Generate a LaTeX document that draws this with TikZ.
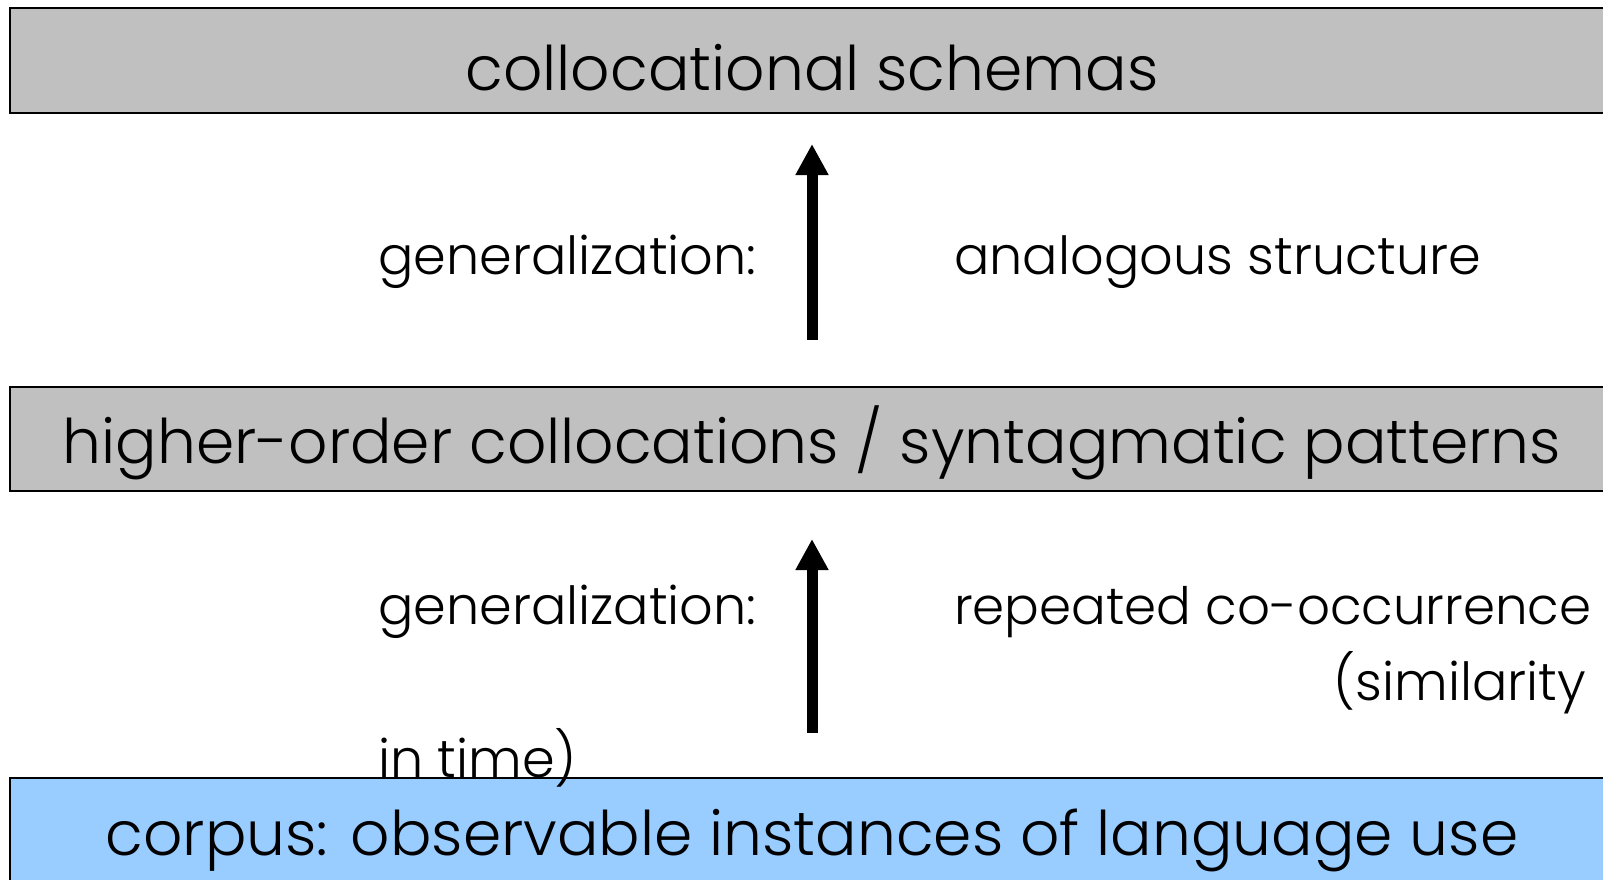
\documentclass[tikz,border=0pt]{standalone}
\usepackage{fontspec}
\setmainfont{Poppins}[UprightFont=* Light]
\usetikzlibrary{arrows.meta}
\definecolor{boxgray}{HTML}{C0C0C0}
\definecolor{boxblue}{HTML}{99CCFF}
\tikzset{
  layer/.style={draw=black, line width=2pt, minimum width=1604pt, inner sep=0pt},
  greylayer/.style={layer, fill=boxgray},
  bluelayer/.style={layer, fill=boxblue},
  layertext/.style={anchor=base, inner sep=0pt, font=\fontsize{61.5}{66}\selectfont},
  sidetext/.style={anchor=base west, inner sep=0pt, font=\fontsize{52.5}{58}\selectfont},
  sidetextr/.style={anchor=base east, inner sep=0pt, font=\fontsize{52.5}{58}\selectfont},
  uparrow/.style={line width=11pt, -{Triangle[width=31pt,length=31pt]}},
}
\begin{document}
\begin{tikzpicture}[x=1pt,y=-1pt]
\useasboundingbox (0,0) rectangle (1603,879);

% the three layers
\node[greylayer, minimum height=105pt] (schemas) at (812,60.5) {};
\node[layertext] (schemastext) at (812,90) {collocational schemas};

\node[greylayer, minimum height=104pt] (patterns) at (812,439) {};
\node[layertext] (patternstext) at (812,463) {higher-order collocations / syntagmatic patterns};

\node[bluelayer, minimum height=140pt] (corpus) at (812,848) {};
\node[layertext] (corpustext) at (812,855) {corpus: observable instances of language use};

% generalization arrows
\coordinate (a1s) at (812,340);
\coordinate (a1e) at (812,144);
\draw[uparrow] (a1s) -- (a1e);
\coordinate (a2s) at (812,733);
\coordinate (a2e) at (812,539);
\draw[uparrow] (a2s) -- (a2e);

% labels of the upper step
\node[sidetext] (gen1) at (378,274) {generalization:};
\node[sidetext] (analog) at (954,274) {analogous structure};

% labels of the lower step
\node[sidetext] (gen2) at (378,624) {generalization:};
\node[sidetext, font=\fontsize{51.5}{58}\selectfont] (repeat) at (954,624) {repeated co-occurrence};
\node[sidetextr] (simil) at (1586,700) {(similarity};
\node[sidetext] (intime) at (378,777) {in time)};
\end{tikzpicture}
\end{document}
